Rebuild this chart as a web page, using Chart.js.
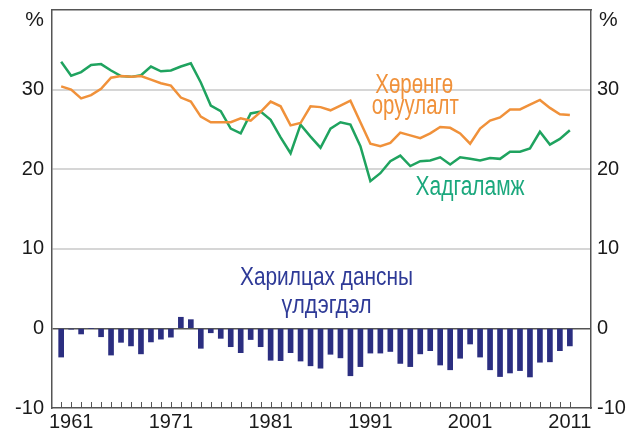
<!DOCTYPE html>
<html>
<head>
<meta charset="utf-8">
<script src="https://cdn.jsdelivr.net/npm/chart.js@4.4.0/dist/chart.umd.min.js"></script>
<style>
  html, body { margin: 0; padding: 0; background: #fff; }
</style>
</head>
<body>
<canvas id="chart" width="628" height="435"></canvas>
<script>
const years = [1960, 1961, 1962, 1963, 1964, 1965, 1966, 1967, 1968, 1969,
  1970, 1971, 1972, 1973, 1974, 1975, 1976, 1977, 1978, 1979,
  1980, 1981, 1982, 1983, 1984, 1985, 1986, 1987, 1988, 1989,
  1990, 1991, 1992, 1993, 1994, 1995, 1996, 1997, 1998, 1999,
  2000, 2001, 2002, 2003, 2004, 2005, 2006, 2007, 2008, 2009,
  2010, 2011];

// Хөрөнгө оруулалт (investment), % of GDP
const investment = [30.4, 30.0, 28.9, 29.3, 30.1, 31.5, 31.7, 31.6, 31.7, 31.25,
  30.8, 30.5, 29.0, 28.5, 26.6, 25.9, 25.9, 25.9, 26.4, 26.1,
  27.2, 28.5, 27.9, 25.5, 25.8, 27.9, 27.8, 27.4, 28.0, 28.6,
  25.9, 23.2, 22.9, 23.3, 24.6, 24.25, 23.9, 24.5, 25.3, 25.2,
  24.5, 23.2, 25.1, 26.1, 26.5, 27.5, 27.5, 28.1, 28.7, 27.7,
  26.9, 26.8];

// Хадгаламж (saving)
const saving = [33.5, 31.75, 32.2, 33.1, 33.2, 32.4, 31.7, 31.6, 31.8, 32.9,
  32.3, 32.4, 32.9, 33.3, 30.9, 28.0, 27.3, 25.1, 24.5, 27.0,
  27.25, 26.2, 24.0, 22.0, 25.6, 24.1, 22.7, 25.1, 25.9, 25.6,
  22.9, 18.5, 19.5, 21.0, 21.7, 20.4, 21.0, 21.1, 21.5, 20.6,
  21.5, 21.3, 21.1, 21.4, 21.3, 22.2, 22.2, 22.6, 24.7, 23.1,
  23.8, 24.9];

// Харилцах дансны үлдэгдэл (current account balance)
const currentAccount = [-3.6, -0.1, -0.7, 0, -1.05, -3.35, -1.75, -2.2, -3.2, -1.7,
  -1.35, -1.1, 1.4, 1.1, -2.5, -0.55, -1.25, -2.3, -3.05, -1.4,
  -2.3, -4.0, -4.05, -3.05, -4.1, -4.7, -5.0, -3.25, -3.7, -5.95,
  -4.8, -3.1, -3.1, -2.9, -4.4, -4.8, -3.2, -2.8, -4.6, -5.2,
  -3.75, -1.96, -3.6, -5.2, -6.05, -5.6, -5.3, -6.1, -4.25, -4.2,
  -2.8, -2.2];

const yearLabels = [1961, 1971, 1981, 1991, 2001, 2011];
const valueLabels = [-10, 0, 10, 20, 30];

const noteTexts = ['Хөрөнгө', 'оруулалт', 'Хадгаламж', 'Харилцах дансны', 'үлдэгдэл'];
const noteYears = [1995.4, 1995.5, 2001.0, 1986.6, 1986.6];
const noteValues = [29.6, 26.9, 16.8, 5.4, 1.9];

const FONT = "'Liberation Sans', Arial, sans-serif";
const noteColors = ['#f0913a', '#f0913a', '#1ba87d', '#2e3a97', '#2e3a97'];
const noteWidths = [78, 87, 109, 173, 90];

const pts = arr => years.map((yr, i) => ({ x: yr, y: arr[i] }));

// keep the plot box fixed: no extra room reserved for half labels
const noPad = s => { s.paddingTop = 0; s.paddingBottom = 0; s.paddingLeft = 0; s.paddingRight = 0; };

const decor = {
  id: 'decor',
  afterDraw(chart) {
    const { ctx, chartArea, scales: { x, y } } = chart;
    ctx.save();
    // small year ticks inside the plot
    ctx.strokeStyle = '#555';
    ctx.lineWidth = 1;
    x.ticks.forEach(t => {
      const px = Math.round(x.getPixelForValue(t.value)) + 0.5;
      ctx.beginPath();
      ctx.moveTo(px, chartArea.bottom);
      ctx.lineTo(px, chartArea.bottom - 6);
      ctx.stroke();
    });
    // % unit at the top of both axes
    ctx.fillStyle = '#1a1a1a';
    ctx.font = '21px ' + FONT;
    ctx.textBaseline = 'middle';
    ctx.textAlign = 'right';
    ctx.fillText('%', chartArea.left - 8, 20);
    ctx.textAlign = 'left';
    ctx.fillText('%', chartArea.right + 8, 20);
    // series names
    ctx.textAlign = 'center';
    ctx.textBaseline = 'alphabetic';
    noteTexts.forEach((txt, i) => {
      ctx.font = (i < 3 ? '27px ' : '26px ') + FONT;
      const w = ctx.measureText(txt).width;
      ctx.save();
      ctx.translate(x.getPixelForValue(noteYears[i]), y.getPixelForValue(noteValues[i]));
      ctx.scale(noteWidths[i] / w, 1);
      ctx.fillStyle = noteColors[i];
      ctx.fillText(txt, 0, 0);
      ctx.restore();
    });
    ctx.restore();
  }
};

const tickFont = { family: FONT, size: 20 };

new Chart(document.getElementById('chart'), {
  type: 'bar',
  data: {
    datasets: [
      {
        type: 'line',
        label: 'Хөрөнгө оруулалт',
        data: pts(investment),
        borderColor: '#f0913a',
        borderWidth: 2.5,
        pointRadius: 0,
        tension: 0,
        order: 1
      },
      {
        type: 'line',
        label: 'Хадгаламж',
        data: pts(saving),
        borderColor: '#1fa35f',
        borderWidth: 2.5,
        pointRadius: 0,
        tension: 0,
        order: 2
      },
      {
        label: 'Харилцах дансны үлдэгдэл',
        data: pts(currentAccount),
        backgroundColor: '#2b2e80',
        barThickness: 5,
        order: 3
      }
    ]
  },
  options: {
    responsive: false,
    animation: false,
    layout: { padding: { top: 10, left: 0, right: 0, bottom: 0 } },
    plugins: { legend: { display: false }, tooltip: { enabled: false } },
    scales: {
      x: {
        type: 'linear',
        min: 1959.6,
        max: 2012.6,
        afterBuildTicks: s => { s.ticks = years.map(v => ({ value: v })); },
        ticks: {
          autoSkip: false,
          maxRotation: 0,
          padding: 2,
          color: '#1a1a1a',
          font: tickFont,
          callback: v => yearLabels.includes(v) ? String(v) : ''
        },
        grid: { display: false, drawTicks: false },
        border: { display: true, color: '#555', width: 1.5 },
        afterFit: s => { s.height = 27; noPad(s); }
      },
      top: {
        type: 'linear',
        position: 'top',
        ticks: { display: false },
        grid: { display: false, drawTicks: false },
        border: { display: true, color: '#555', width: 1.5 },
        afterFit: s => { s.height = 0; noPad(s); }
      },
      y: {
        min: -10,
        max: 40,
        ticks: {
          stepSize: 10,
          padding: 8,
          color: '#1a1a1a',
          font: tickFont,
          callback: v => valueLabels.includes(v) ? String(v) : ''
        },
        grid: {
          drawTicks: false,
          color: c => c.tick.value === 0 ? '#555' : (c.tick.value === -10 || c.tick.value === 40 ? 'rgba(0,0,0,0)' : '#d6d6d6'),
          lineWidth: c => c.tick.value === 0 ? 1.5 : 2
        },
        border: { display: true, color: '#555', width: 1.5 },
        afterFit: s => { s.width = 52; noPad(s); }
      },
      y2: {
        position: 'right',
        min: -10,
        max: 40,
        ticks: {
          stepSize: 10,
          padding: 6,
          color: '#1a1a1a',
          font: tickFont,
          callback: v => valueLabels.includes(v) ? String(v) : ''
        },
        grid: { drawOnChartArea: false, drawTicks: false },
        border: { display: true, color: '#555', width: 1.5 },
        afterFit: s => { s.width = 37; noPad(s); }
      }
    }
  },
  plugins: [decor]
});
</script>
</body>
</html>
